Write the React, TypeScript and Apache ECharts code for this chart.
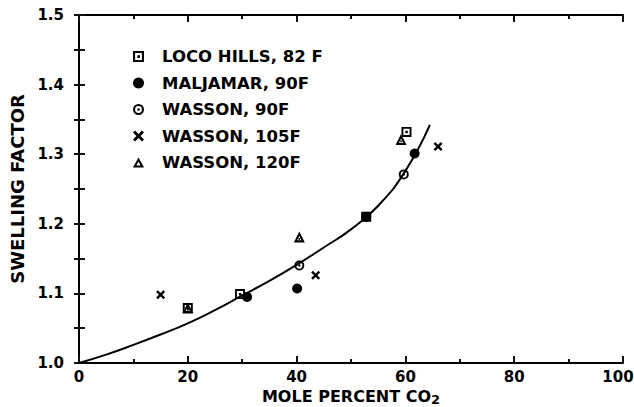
import React, { useEffect, useRef } from "react";
import * as echarts from "echarts";

// Smooth fitted curve
const curveX = [0, 5, 10, 15, 20, 25, 30, 35, 40, 45, 50, 55, 60, 64.5];
const curveY = [1.0, 1.012, 1.026, 1.041, 1.057, 1.076, 1.097, 1.118, 1.141, 1.166, 1.192, 1.226, 1.276, 1.342];

// Measured points
const locoX = [20, 29.6, 52.8, 60.2];
const locoY = [1.079, 1.099, 1.21, 1.332];
const maljamarX = [30.9, 40.1, 52.8, 61.7];
const maljamarY = [1.095, 1.107, 1.21, 1.301];
const wasson90X = [40.5, 59.7];
const wasson90Y = [1.14, 1.271];
const wasson105X = [15, 43.5, 66];
const wasson105Y = [1.098, 1.126, 1.311];
const wasson120X = [20, 40.5, 59.2];
const wasson120Y = [1.079, 1.181, 1.321];

const seriesNames = [
  "LOCO HILLS, 82 F",
  "MALJAMAR, 90F",
  "WASSON, 90F",
  "WASSON, 105F",
  "WASSON, 120F",
];

const xTickLabels = ["0", "20", "40", "60", "80", "100"];
const yTickLabels = ["1.0", "1.1", "1.2", "1.3", "1.4", "1.5"];

const FONT = "DejaVu Sans";

const SQUARE_DOT = "path://M0,0H10V10H0Z M1.9,1.9V8.1H8.1V1.9Z M3.9,3.9H6.3V6.3H3.9Z";
const CIRCLE_DOT =
  "path://M5,0A5,5,0,1,1,5,10A5,5,0,1,1,5,0Z M5,1.9A3.1,3.1,0,1,0,5,8.1A3.1,3.1,0,1,0,5,1.9Z M5,3.8A1.2,1.2,0,1,1,5,6.2A1.2,1.2,0,1,1,5,3.8Z";
const CROSS =
  "path://M0,1.9L1.9,0L5,3.1L8.1,0L10,1.9L6.9,5L10,8.1L8.1,10L5,6.9L1.9,10L0,8.1L3.1,5Z";
const TRIANGLE = "path://M5,0L10,9L0,9Z M5,3.6L3.1,7.2H6.9Z";
const TRIANGLE_DOT = "path://M5,0L10,9L0,9Z M5,3.6L3.1,7.2H6.9Z M4.3,5.3H5.7V6.7H4.3Z";

const zip = (xs: number[], ys: number[]) => xs.map((x, i) => [x, ys[i]]);

export default function App() {
  const ref = useRef<HTMLDivElement>(null);
  useEffect(() => {
    if (!ref.current) return;
    const chart = echarts.init(ref.current, undefined, { renderer: "svg" });
    const labelStyle = {
      color: "#000",
      fontFamily: FONT,
      fontWeight: "bold" as const,
      fontSize: 15,
    };
    const scatter = (name: string, xs: number[], ys: number[], symbol: string, size = 10) => ({
      name,
      type: "scatter",
      data: zip(xs, ys),
      symbol,
      symbolSize: size,
      itemStyle: { color: "#000", opacity: 1 },
      z: 5,
    });
    chart.setOption({
      animation: false,
      grid: { left: 79, right: 11, top: 15, bottom: 44, outerBoundsMode: "none" },
      legend: {
        orient: "vertical",
        left: 128,
        top: 43,
        itemWidth: 11,
        itemHeight: 11,
        itemGap: 9.5,
        data: [
          { name: seriesNames[0], icon: SQUARE_DOT },
          { name: seriesNames[1], icon: "circle" },
          { name: seriesNames[2], icon: CIRCLE_DOT },
          { name: seriesNames[3], icon: CROSS },
          { name: seriesNames[4], icon: TRIANGLE },
        ],
        textStyle: {
          color: "#000",
          fontFamily: FONT,
          fontWeight: "bold",
          fontSize: 16.5,
          lineHeight: 17,
          padding: [0, 0, 0, 13],
        },
      },
      xAxis: [
        {
          type: "value",
          min: 0,
          max: 100,
          interval: 20,
          position: "bottom",
          axisLine: { show: true, lineStyle: { color: "#000", width: 2 } },
          axisTick: { show: true, inside: true, length: 7, lineStyle: { color: "#111", width: 2 } },
          minorTick: { show: true, splitNumber: 2, length: 4, lineStyle: { color: "#111", width: 2 } },
          splitLine: { show: false },
          axisLabel: {
            ...labelStyle,
            margin: 6,
            formatter: (v: number) => {
              const t = xTickLabels[Math.round(v / 20)] ?? "";
              return v >= 100 ? "{last|" + t + "}" : t;
            },
            rich: {
              last: { ...labelStyle, padding: [0, 10, 0, 0] },
            },
          },
          name: "MOLE PERCENT CO{sub|2}",
          nameLocation: "middle",
          nameGap: 23,
          nameTextStyle: {
            color: "#000",
            fontFamily: FONT,
            fontWeight: "bold",
            fontSize: 16,
            rich: {
              sub: {
                color: "#000",
                fontFamily: FONT,
                fontWeight: "bold",
                fontSize: 13,
                padding: [6, 0, 0, 0],
              },
            },
          },
        },
        {
          type: "value",
          min: 0,
          max: 100,
          interval: 20,
          position: "top",
          axisLine: { show: true, lineStyle: { color: "#000", width: 2 } },
          axisTick: { show: true, inside: true, length: 7, lineStyle: { color: "#111", width: 2 } },
          minorTick: { show: true, splitNumber: 2, length: 4, lineStyle: { color: "#111", width: 2 } },
          splitLine: { show: false },
          axisLabel: { show: false },
        },
      ],
      yAxis: [
        {
          type: "value",
          min: 1.0,
          max: 1.5,
          interval: 0.1,
          position: "left",
          axisLine: { show: true, lineStyle: { color: "#000", width: 2 } },
          axisTick: { show: true, inside: true, length: 6, lineStyle: { color: "#111", width: 2 } },
          minorTick: { show: true, splitNumber: 2, length: 6, lineStyle: { color: "#111", width: 2 } },
          splitLine: { show: false },
          axisLabel: {
            ...labelStyle,
            margin: 15,
            formatter: (v: number) => yTickLabels[Math.round((v - 1) * 10)] ?? "",
          },
          name: "SWELLING FACTOR",
          nameLocation: "middle",
          nameGap: 52,
          nameTextStyle: {
            color: "#000",
            fontFamily: FONT,
            fontWeight: "bold",
            fontSize: 18,
          },
        },
        {
          type: "value",
          min: 1.0,
          max: 1.5,
          interval: 0.1,
          position: "right",
          axisLine: { show: true, lineStyle: { color: "#000", width: 2 } },
          axisTick: { show: true, inside: true, length: 5, lineStyle: { color: "#111", width: 2 } },
          minorTick: { show: true, splitNumber: 2, length: 5, lineStyle: { color: "#111", width: 2 } },
          splitLine: { show: false },
          axisLabel: { show: false },
        },
      ],
      series: [
        {
          name: "curve",
          type: "line",
          data: zip(curveX, curveY),
          smooth: 0.5,
          showSymbol: false,
          lineStyle: { color: "#000", width: 2 },
          z: 3,
        },
        scatter(seriesNames[0], locoX, locoY, SQUARE_DOT, 10),
        scatter(seriesNames[1], maljamarX, maljamarY, "circle", 10),
        scatter(seriesNames[2], wasson90X, wasson90Y, CIRCLE_DOT, 10),
        scatter(seriesNames[3], wasson105X, wasson105Y, CROSS, 9),
        scatter(seriesNames[4], wasson120X, wasson120Y, TRIANGLE_DOT, 11),
      ],
    });
    return () => chart.dispose();
  }, []);
  return (
    <div
      ref={ref}
      style={{ position: "fixed", left: 0, top: 0, width: 634, height: 407, background: "#fff" }}
    />
  );
}
